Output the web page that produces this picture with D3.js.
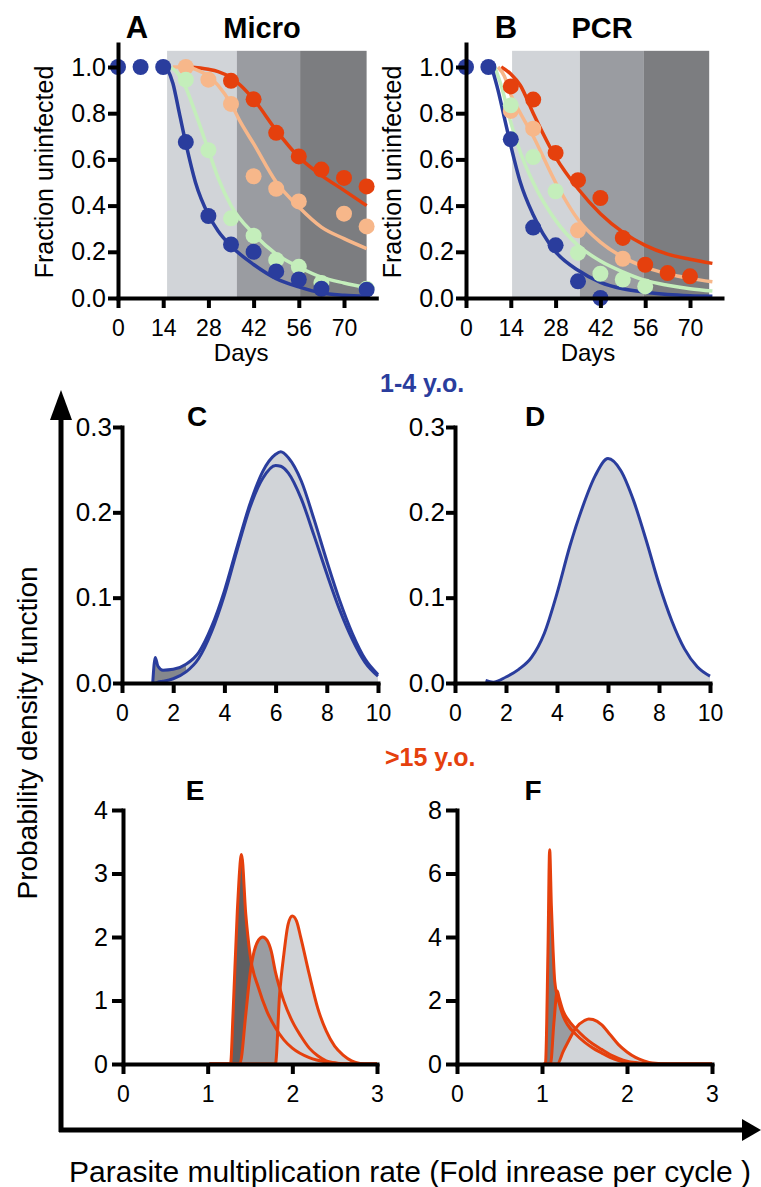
<!DOCTYPE html>
<html><head><meta charset="utf-8">
<script src="https://cdn.jsdelivr.net/npm/d3@7"></script>
<style>
body{margin:0;background:#fff}
text{font-family:"Liberation Sans",Arial,sans-serif}
</style></head>
<body><svg id="c" width="761" height="1187"></svg>
<script>
// ---------------- DATA ----------------
const dayTicks = [0,14,28,42,56,70];
const fracTicks = [0,0.2,0.4,0.6,0.8,1.0];
const microWindows = [[15.2,36.8],[36.8,56.4],[56.4,77]];
const pcrWindows = [[14.4,35.6],[35.6,55.6],[55.6,76]];
const windowTop = 1.07;

// Micro observed points [day, fraction]
const microBluePts = [[0,1],[7,1],[14,1],[21,0.675],[28,0.355],[35,0.232],[42,0.2],[49,0.115],[56,0.08],[63,0.04],[77,0.036]];
const microGreenPts = [[21,0.945],[28,0.64],[35,0.345],[42,0.27],[49,0.165],[56,0.135],[63,0.065],[77,0.04]];
const microPeachPts = [[21,1.0],[28,0.945],[35,0.84],[42,0.527],[49,0.473],[56,0.418],[70,0.365],[77,0.31]];
const microRedPts = [[35,0.94],[42,0.86],[49,0.715],[56,0.613],[63,0.556],[70,0.52],[77,0.483]];
// Micro fitted curves
const microBlueCurve = [[15,1],[17,0.93],[19,0.8],[21,0.67],[24,0.5],[28,0.36],[31,0.29],[35,0.225],[42,0.145],[49,0.084],[56,0.048],[63,0.022],[70,0.012],[77,0.007]];
const microGreenCurve = [[16,1],[18,0.98],[21,0.91],[24,0.8],[28,0.64],[31,0.52],[35,0.4],[42,0.278],[49,0.19],[56,0.134],[63,0.09],[70,0.065],[77,0.045]];
const microPeachCurve = [[17,1],[21,1],[24,0.99],[28,0.96],[31,0.92],[35,0.84],[38,0.76],[42,0.668],[49,0.502],[56,0.394],[63,0.307],[70,0.257],[77,0.214]];
const microRedCurve = [[22,1],[28,0.99],[31,0.98],[35,0.954],[38,0.92],[42,0.86],[49,0.726],[56,0.61],[63,0.531],[70,0.466],[77,0.4]];

// PCR observed points
const pcrBluePts = [[0,1],[7,1],[14,0.687],[21,0.305],[28,0.228],[35,0.072],[42,0]];
const pcrGreenPts = [[14,0.834],[21,0.61],[28,0.462],[35,0.195],[42,0.105],[49,0.08],[56,0.05]];
const pcrPeachPts = [[14,0.81],[21,0.733],[35,0.293],[49,0.17]];
const pcrRedPts = [[14,0.916],[21,0.859],[28,0.628],[35,0.51],[42,0.433],[49,0.26],[56,0.144],[63,0.108],[70,0.094]];
// PCR fitted curves
const pcrBlueCurve = [[8,1],[10,0.9],[12,0.78],[14,0.66],[17,0.5],[21,0.36],[24,0.28],[28,0.2],[35,0.12],[42,0.068],[49,0.04],[56,0.025],[63,0.015],[70,0.01],[77,0.008]];
const pcrGreenCurve = [[9,1],[11,0.92],[14,0.76],[17,0.63],[21,0.5],[28,0.336],[35,0.228],[42,0.16],[49,0.113],[56,0.076],[63,0.055],[70,0.04],[77,0.03]];
const pcrPeachCurve = [[10,1],[12,0.96],[14,0.88],[17,0.8],[21,0.7],[28,0.5],[35,0.34],[42,0.242],[49,0.177],[56,0.134],[63,0.105],[70,0.085],[77,0.07]];
const pcrRedCurve = [[11,1],[14,0.97],[17,0.92],[21,0.8],[28,0.61],[35,0.473],[42,0.365],[49,0.285],[56,0.228],[63,0.19],[70,0.168],[77,0.15]];

// Panel C: two density curves on a shared grid
const cX = [1.2,1.3,1.4,1.6,2,2.5,3,3.5,4,4.5,5,5.5,6,6.2,6.5,7,7.5,8,8.5,9,9.5,10];
const cUpper = [0,0.03,0.02,0.015,0.016,0.022,0.036,0.066,0.108,0.16,0.21,0.248,0.268,0.271,0.264,0.237,0.192,0.143,0.097,0.058,0.028,0.01];
const cLower = [0,0,0.001,0.002,0.005,0.013,0.029,0.06,0.103,0.156,0.206,0.24,0.255,0.254,0.246,0.216,0.173,0.128,0.086,0.051,0.024,0.008];
// Panel D
const dX = [1.2,1.5,2,2.5,3,3.5,4,4.5,5,5.5,6,6.5,7,7.5,8,8.5,9,9.5,10];
const dY = [0.003,0.001,0.007,0.016,0.03,0.058,0.105,0.16,0.206,0.243,0.263,0.249,0.214,0.167,0.116,0.073,0.04,0.019,0.008];
// Panel E
const e1 = [[1.02,0],[1.27,0],[1.3,0.8],[1.35,2.4],[1.4,3.3],[1.45,2.36],[1.5,1.73],[1.6,1.2],[1.7,0.83],[1.8,0.57],[1.9,0.38],[2.0,0.25],[2.2,0.1],[2.4,0.03],[2.6,0.005],[3,0]];
const e2 = [[1.02,0],[1.38,0],[1.45,0.78],[1.5,1.41],[1.55,1.78],[1.6,1.95],[1.65,2.0],[1.7,1.95],[1.75,1.78],[1.8,1.45],[1.9,0.99],[2.0,0.67],[2.1,0.44],[2.2,0.25],[2.3,0.13],[2.4,0.05],[2.5,0.02],[2.6,0],[3,0]];
const e3 = [[1.02,0],[1.8,0],[1.85,1.1],[1.9,1.73],[1.95,2.2],[2.0,2.33],[2.05,2.25],[2.1,1.99],[2.2,1.41],[2.3,0.88],[2.4,0.52],[2.5,0.28],[2.6,0.14],[2.7,0.05],[2.8,0.01],[2.9,0],[3,0]];
// Panel F
const f1 = [[1.02,0],[1.04,0],[1.07,3.5],[1.09,6.75],[1.11,5],[1.13,3.6],[1.15,2.6],[1.2,1.93],[1.25,1.5],[1.3,1.24],[1.4,0.93],[1.5,0.69],[1.6,0.5],[1.7,0.35],[1.8,0.21],[1.9,0.11],[2.0,0.05],[2.2,0.01],[2.4,0],[3,0]];
const f2 = [[1.02,0],[1.1,0],[1.14,1.3],[1.18,2.3],[1.2,2.1],[1.25,1.66],[1.3,1.42],[1.4,1.1],[1.5,0.84],[1.6,0.63],[1.7,0.46],[1.8,0.3],[1.9,0.18],[2.0,0.09],[2.1,0.045],[2.2,0.02],[2.4,0],[3,0]];
const f3 = [[1.02,0],[1.18,0],[1.25,0.4],[1.3,0.66],[1.4,1.14],[1.5,1.37],[1.55,1.42],[1.6,1.4],[1.7,1.24],[1.8,0.93],[1.9,0.61],[2.0,0.38],[2.1,0.21],[2.2,0.1],[2.3,0.03],[2.5,0],[3,0]];

const cdTicksX = [0,2,4,6,8,10];
const cdTicksY = [0,0.1,0.2,0.3];
const efTicksX = [0,1,2,3];
const eTicksY = [0,1,2,3,4];
const fTicksY = [0,2,4,6,8];

// ---------------- STYLE ----------------
const BLUE = "#2a3d9d", GREEN = "#c4eebb", PEACH = "#f7b78a", RED = "#e5400d";
const LIGHT = "#d1d4d8", MID = "#9a9ca1", DARKW = "#7c7d80", DARK = "#5f6063";

const svg = d3.select("#c");

function styleAxis(g, fs){
  g.selectAll(".domain").attr("stroke","#000").attr("stroke-width",4).attr("stroke-linecap","square");
  g.selectAll(".tick line").attr("stroke","#000").attr("stroke-width",4);
  g.selectAll(".tick text").attr("fill","#000").style("font-size",fs+"px").style("font-family",'"Liberation Sans",Arial,sans-serif');
}

function axes(x, y, xt, yt, opts){
  const gx = svg.append("g").attr("transform",`translate(0,${y(0)})`)
    .call(d3.axisBottom(x).tickValues(xt).tickSize(10).tickSizeOuter(0).tickPadding(opts.xpad).tickFormat(opts.xf||d3.format("d")));
  styleAxis(gx, opts.xfs);
  const gy = svg.append("g").attr("transform",`translate(${x(0)},0)`)
    .call(d3.axisLeft(y).tickValues(yt).tickSize(opts.ytick||10).tickSizeOuter(0).tickPadding(opts.ypad).tickFormat(opts.yf||d3.format("d")));
  styleAxis(gy, opts.yfs);
}

// ---------- Panels A & B ----------
function survival(xr, windows, series, yLabelX){
  const x = d3.scaleLinear().domain([0,80]).range(xr);
  const y = d3.scaleLinear().domain([0,1.1]).range([298,43.9]);
  const shades = [LIGHT, MID, DARKW];
  svg.append("g").selectAll("rect").data(windows).join("rect")
    .attr("x",d=>x(d[0])).attr("width",d=>x(d[1])-x(d[0]))
    .attr("y",y(windowTop)).attr("height",y(0)-y(windowTop))
    .attr("fill",(d,i)=>shades[i]);
  const line = d3.line().x(d=>x(d[0])).y(d=>y(d[1])).curve(d3.curveMonotoneX);
  series.forEach(s=>{
    svg.append("path").datum(s.curve).attr("d",line).attr("fill","none")
      .attr("stroke",s.color).attr("stroke-width",3.5);
  });
  series.forEach(s=>{
    svg.append("g").selectAll("circle").data(s.pts).join("circle")
      .attr("cx",d=>x(d[0])).attr("cy",d=>y(d[1])).attr("r",8).attr("fill",s.color);
  });
  axes(x, y, dayTicks, fracTicks, {xpad:12, ypad:2, xfs:23, yfs:25, yf:d3.format(".1f")});
  svg.append("text").attr("x",(x(0)+x(80))/2-6).attr("y",361).attr("text-anchor","middle")
    .style("font-size","24px").text("Days");
  svg.append("text").attr("transform",`translate(${yLabelX},172) rotate(-90)`).attr("text-anchor","middle")
    .style("font-size","25px").text("Fraction uninfected");
}

survival([118,376.3], microWindows, [
  {curve:microRedCurve, pts:microRedPts, color:RED},
  {curve:microPeachCurve, pts:microPeachPts, color:PEACH},
  {curve:microGreenCurve, pts:microGreenPts, color:GREEN},
  {curve:microBlueCurve, pts:microBluePts, color:BLUE}
], 53);
survival([466,722], pcrWindows, [
  {curve:pcrRedCurve, pts:pcrRedPts, color:RED},
  {curve:pcrPeachCurve, pts:pcrPeachPts, color:PEACH},
  {curve:pcrGreenCurve, pts:pcrGreenPts, color:GREEN},
  {curve:pcrBlueCurve, pts:pcrBluePts, color:BLUE}
], 401);

// ---------- Panels C & D ----------
function zip(xs, ys){ return xs.map((v,i)=>[v, ys[i]]); }
{
  const x = d3.scaleLinear().domain([0,10]).range([122,378]);
  const y = d3.scaleLinear().domain([0,0.3]).range([683,427]);
  const area = d3.area().x(d=>x(d[0])).y0(y(0)).y1(d=>y(d[1])).curve(d3.curveMonotoneX);
  const line = d3.line().x(d=>x(d[0])).y(d=>y(d[1])).curve(d3.curveMonotoneX);
  const up = zip(cX,cUpper), lo = zip(cX,cLower);
  svg.append("path").datum(up).attr("d",area).attr("fill",LIGHT);
  svg.append("path").datum(lo).attr("d",area).attr("fill",LIGHT);
  const band = cX.map((v,i)=>[v,cUpper[i],cLower[i]]).filter(d=>d[0]<=2.5);
  svg.append("path").datum(band).attr("d",d3.area().x(d=>x(d[0])).y0(d=>y(d[2])).y1(d=>y(d[1])).curve(d3.curveMonotoneX)).attr("fill","#85888d");
  [up,lo].forEach(s=>svg.append("path").datum(s).attr("d",line).attr("fill","none").attr("stroke",BLUE).attr("stroke-width",3));
  axes(x,y,cdTicksX,cdTicksY,{xpad:12,ypad:1,xfs:23,yfs:26,ytick:9,yf:d3.format(".1f")});
}
{
  const x = d3.scaleLinear().domain([0,10]).range([455,710]);
  const y = d3.scaleLinear().domain([0,0.3]).range([683,427]);
  const s = zip(dX,dY);
  svg.append("path").datum(s).attr("d",d3.area().x(d=>x(d[0])).y0(y(0)).y1(d=>y(d[1])).curve(d3.curveMonotoneX)).attr("fill",LIGHT);
  svg.append("path").datum(s).attr("d",d3.line().x(d=>x(d[0])).y(d=>y(d[1])).curve(d3.curveMonotoneX)).attr("fill","none").attr("stroke",BLUE).attr("stroke-width",3);
  axes(x,y,cdTicksX,cdTicksY,{xpad:12,ypad:1,xfs:23,yfs:26,ytick:9,yf:d3.format(".1f")});
}

// ---------- Panels E & F ----------
function densities(xr, ymax, yt, curves, fills){
  const x = d3.scaleLinear().domain([0,3]).range(xr);
  const y = d3.scaleLinear().domain([0,ymax]).range([1064,810]);
  const area = d3.area().x(d=>x(d[0])).y0(y(0)).y1(d=>y(d[1])).curve(d3.curveMonotoneX);
  const line = d3.line().x(d=>x(d[0])).y(d=>y(d[1])).curve(d3.curveMonotoneX);
  curves.forEach((c,i)=>svg.append("path").datum(c).attr("d",area).attr("fill",fills[i]));
  curves.forEach(c=>svg.append("path").datum(c).attr("d",line).attr("fill","none").attr("stroke",RED).attr("stroke-width",3).attr("stroke-linejoin","round"));
  axes(x,y,efTicksX,yt,{xpad:12,ypad:4,xfs:23,yfs:25,ytick:11});
}
densities([123,377], 4, eTicksY, [e1,e2,e3], [DARK, MID, LIGHT]);
densities([457,712], 8, fTicksY, [f1,f2,f3], ["#76777a", MID, LIGHT]);

// ---------- Frame arrows ----------
svg.append("line").attr("x1",61).attr("y1",1132).attr("x2",61).attr("y2",415).attr("stroke","#000").attr("stroke-width",5);
svg.append("path").attr("d","M61,390 L50,420 L72,420 Z").attr("fill","#000");
svg.append("line").attr("x1",59).attr("y1",1130).attr("x2",745).attr("y2",1130).attr("stroke","#000").attr("stroke-width",5);
svg.append("path").attr("d","M761,1130 L742,1119 L742,1141 Z").attr("fill","#000");

// ---------- Titles and labels ----------
function txt(x,y,s,size,opts={}){
  const t = svg.append("text").attr("x",x).attr("y",y).attr("text-anchor",opts.anchor||"middle")
    .style("font-size",size+"px").style("font-weight",opts.bold?"bold":"normal").attr("fill",opts.color||"#000").text(s);
  return t;
}
txt(137,38,"A",31,{bold:true});
txt(262,38,"Micro",29,{bold:true});
txt(506,38,"B",31,{bold:true});
txt(602,38,"PCR",29,{bold:true});
txt(197,426,"C",28,{bold:true});
txt(535,426,"D",28,{bold:true});
txt(195,800,"E",28,{bold:true});
txt(533,800,"F",28,{bold:true});
txt(380,392,"1-4 y.o.",25,{bold:true,color:BLUE,anchor:"start"});
txt(385,766,">15 y.o.",25,{bold:true,color:RED,anchor:"start"});
svg.append("text").attr("transform","translate(37,733) rotate(-90)").attr("text-anchor","middle")
  .style("font-size","28px").text("Probability density function");
txt(410,1182,"Parasite multiplication rate (Fold inrease per cycle )",30);
</script></body></html>
